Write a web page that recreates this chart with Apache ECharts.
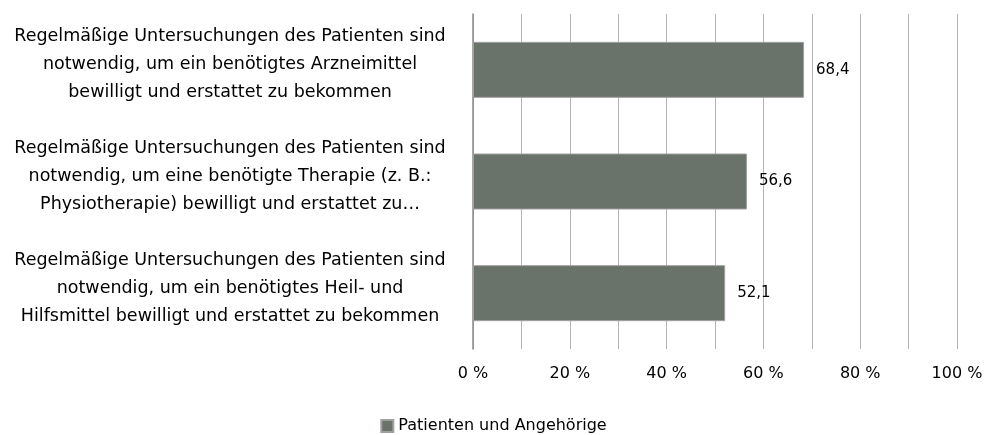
<!DOCTYPE html>
<html><head><meta charset="utf-8">
<script src="https://cdn.jsdelivr.net/npm/echarts@6/dist/echarts.min.js"></script>
<style>html,body{margin:0;padding:0;background:#fff}#c{width:987px;height:435px}</style>
</head><body><div id="c"></div>
<script>
const categories = [
  "Regelmäßige Untersuchungen des Patienten sind\nnotwendig, um ein benötigtes Arzneimittel\nbewilligt und erstattet zu bekommen",
  "Regelmäßige Untersuchungen des Patienten sind\nnotwendig, um eine benötigte Therapie (z. B.:\nPhysiotherapie) bewilligt und erstattet zu…",
  "Regelmäßige Untersuchungen des Patienten sind\nnotwendig, um ein benötigtes Heil- und\nHilfsmittel bewilligt und erstattet zu bekommen"
];
const seriesName = "Patienten und Angehörige";
const values = [68.4, 56.6, 52.1];
const xTicks = [0, 20, 40, 60, 80, 100];

const font = "DejaVu Sans";
const chart = echarts.init(document.getElementById('c'), null, {renderer:'canvas'});
chart.setOption({
  animation: false,
  textStyle: {fontFamily: font},
  grid: {left: 473, right: 30, top: 14, bottom: 86, containLabel: false},
  legend: {
    data: [seriesName], top: 413, left: 'center',
    icon: 'rect', itemWidth: 12, itemHeight: 12, itemGap: 5,
    textStyle: {fontFamily: font, fontSize: 16, color: '#000'}
  },
  xAxis: {
    type: 'value', min: 0, max: 100, interval: 10,
    axisLine: {show: false}, axisTick: {show: false},
    splitLine: {show: true, lineStyle: {color: '#b4b4b4', width: 1}},
    axisLabel: {
      fontFamily: font, fontSize: 16, color: '#000', margin: 17,
      formatter: v => xTicks.includes(v) ? v + ' %' : ''
    }
  },
  yAxis: {
    type: 'category', inverse: true, data: categories,
    axisLine: {show: true, lineStyle: {color: '#8a8a8a', width: 1.5}},
    axisTick: {show: false},
    axisLabel: {fontFamily: font, fontSize: 17.5, color: '#000', align: 'center', margin: 243, lineHeight: 28,
      formatter: v => v.split('\n').map(l => '{t|' + l + '}').join('\n') + '\n{s| }',
      rich: {
        t: {fontFamily: font, fontSize: 17.5, lineHeight: 28, color: '#000', align: 'center'},
        s: {fontSize: 2, lineHeight: 10}
      }}
  },
  series: [{
    name: seriesName, type: 'bar', data: values, barWidth: 56,
    itemStyle: {color: '#6a7369', borderColor: '#a0a0a0', borderWidth: 1},
    label: {show: true, position: 'right', distance: 12, fontFamily: font, fontSize: 15, color: '#000',
      formatter: p => String(p.value).replace('.', ',')}
  }]
});
</script></body></html>
